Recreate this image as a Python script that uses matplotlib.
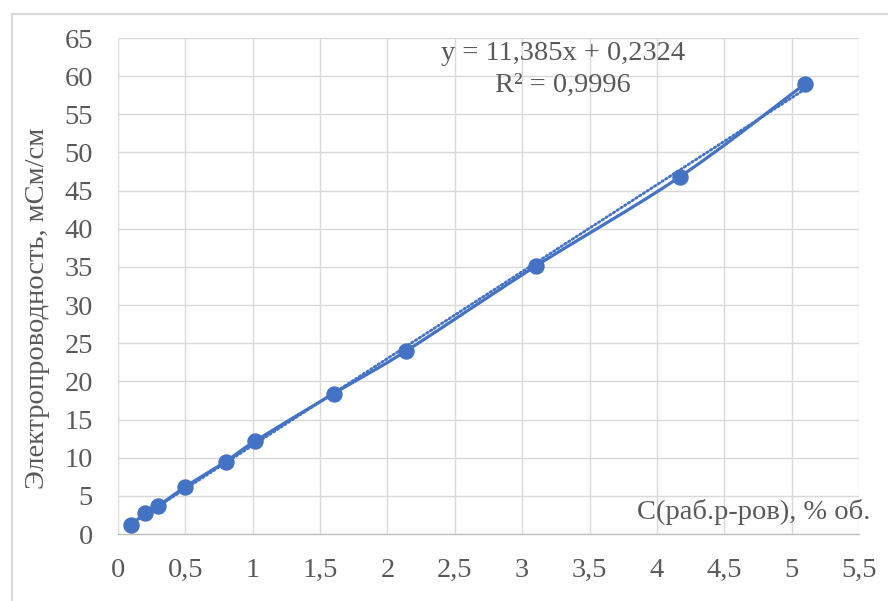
import numpy as np
import matplotlib
matplotlib.use("Agg")
import matplotlib.pyplot as plt
from matplotlib.patches import Rectangle

# ---- data ----
conc = [0.1, 0.2, 0.3, 0.5, 0.8, 1.02, 1.6, 2.14, 3.1, 4.17, 5.1]
cond = [1.2, 2.7, 3.7, 6.2, 9.5, 12.2, 18.4, 24.0, 35.1, 46.8, 59.0]
slope, intercept = 11.385, 0.2324
eq_text = "y = 11,385x + 0,2324"
r2_text = "R² = 0,9996"
x_ticks = [0, 0.5, 1, 1.5, 2, 2.5, 3, 3.5, 4, 4.5, 5, 5.5]
y_ticks = list(range(0, 70, 5))
x_title = "C(раб.р-ров), % об."
y_title = "Электропроводность, мСм/см"

W, H = 888, 601
plt.rcParams['font.family'] = ['Liberation Serif', 'DejaVu Serif']
TXT = '#595959'
BLUE = '#4472C4'
FS = 20.5

fig = plt.figure(figsize=(W / 100, H / 100), dpi=100)
L, R, T, B = 118, 859, 38, 534
ax = fig.add_axes([L / W, 1 - B / H, (R - L) / W, (B - T) / H])

# outer frame (cropped on right/bottom)
fig.patches.append(Rectangle((12 / W, -0.05), 1.2, 1 - 14 / H + 0.05,
                             transform=fig.transFigure, fill=False,
                             edgecolor='#d9d9d9', lw=1.5, zorder=0))

# smoothed line (Excel-style Bezier smoothing through points)
def smooth(xs, ys, n=30):
    P = np.column_stack([xs, ys]).astype(float)
    out = []
    for i in range(len(P) - 1):
        p0 = P[i - 1] if i > 0 else P[i]
        p1, p2 = P[i], P[i + 1]
        p3 = P[i + 2] if i + 2 < len(P) else P[i + 1]
        c1 = p1 + (p2 - p0) / 6
        c2 = p2 - (p3 - p1) / 6
        t = np.linspace(0, 1, n)[:, None]
        seg = ((1 - t) ** 3) * p1 + 3 * ((1 - t) ** 2) * t * c1 + 3 * (1 - t) * t ** 2 * c2 + t ** 3 * p2
        out.append(seg if i == 0 else seg[1:])
    S = np.vstack(out)
    return S[:, 0], S[:, 1]

sx, sy = smooth(conc, cond)
ax.plot(sx, sy, color=BLUE, lw=2.3, zorder=3, solid_capstyle='round')
ax.plot(conc, cond, 'o', color=BLUE, ms=10.8, zorder=4)

tx = np.array([min(conc), max(conc)])
ax.plot(tx, slope * tx + intercept, color=BLUE, lw=2.0, ls=(0, (0.6, 1.0)),
        dash_capstyle='round', zorder=2)

ax.set_xlim(0, 5.5)
ax.set_ylim(0, 65)
ax.set_xticks(x_ticks)
ax.set_yticks(y_ticks)
ax.set_xticklabels([f"{v:g}".replace('.', ',') for v in x_ticks])
ax.set_yticklabels([str(v) for v in y_ticks])
ax.tick_params(length=0, labelsize=FS, labelcolor=TXT, pad=18)
ax.tick_params(axis='x', pad=17)
ax.grid(True, color='#d9d9d9', lw=1.0)
ax.set_axisbelow(True)
for s in ['top', 'right', 'left']:
    ax.spines[s].set_visible(False)
ax.spines['bottom'].set_color('#bfbfbf')
ax.spines['bottom'].set_linewidth(1.0)

fig.text(38 / W, 1 - 308 / H, y_title, rotation=90, ha='center', va='center',
         fontsize=FS, color=TXT)
fig.text(870 / W, 1 - 512 / H, x_title, ha='right', va='center',
         fontsize=FS, color=TXT)
fig.text(563 / W, 1 - 53 / H, eq_text, ha='center', va='center', fontsize=FS, color=TXT)
fig.text(563 / W, 1 - 85 / H, r2_text, ha='center', va='center', fontsize=FS, color=TXT)

fig.savefig('out.png', dpi=100)
